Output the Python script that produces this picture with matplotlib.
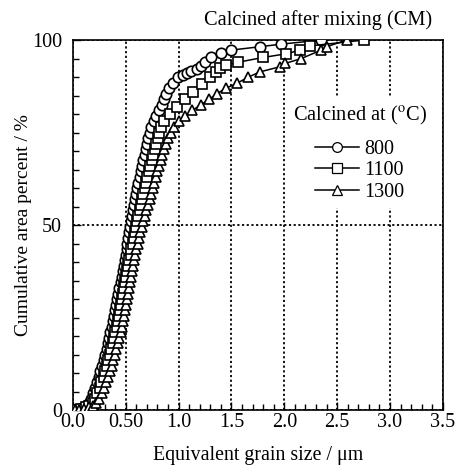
import matplotlib
matplotlib.use("Agg")
import matplotlib.pyplot as plt
from matplotlib.lines import Line2D
from matplotlib.ticker import MultipleLocator, FixedLocator

plt.rcParams["font.family"] = ["Liberation Serif", "DejaVu Serif"]
plt.rcParams["mathtext.fontset"] = "stix"

# cumulative area percent vs equivalent grain size
y_800 = [0.0, 0.1, 0.3, 0.7, 1.2, 2.0, 3.0, 4.5, 6.0, 7.5, 9.0, 10.5, 12.0, 13.5, 15.0,
         16.5, 18.0, 19.5, 21.0, 22.5, 24.0, 25.5, 27.0, 28.5, 30.0, 31.5, 33.0, 34.5,
         36.0, 37.5, 39.0, 40.5, 42.0, 43.5, 45.0, 46.5, 48.0, 49.5, 51.0, 52.5, 54.0,
         55.5, 57.0, 58.5, 60.0, 61.5, 63.0, 64.5, 66.0, 67.5, 69.0, 70.5, 72.0, 73.5,
         75.0, 76.5, 78.0, 79.5, 81.0, 82.5, 84.0, 85.5, 87.0, 88.5, 90.0, 90.6, 91.1,
         91.6, 92.3, 93.1, 94.1, 95.4, 96.6, 97.3, 98.2, 98.9, 100.0]
x_800 = [0.00, 0.03, 0.05, 0.10, 0.125, 0.15, 0.17, 0.19, 0.21, 0.228, 0.245, 0.26, 0.277,
         0.29, 0.305, 0.318, 0.33, 0.343, 0.355, 0.367, 0.378, 0.39, 0.40, 0.41, 0.42,
         0.43, 0.44, 0.45, 0.46, 0.47, 0.48, 0.49, 0.50, 0.508, 0.516, 0.525, 0.533,
         0.542, 0.55, 0.56, 0.57, 0.58, 0.59, 0.60, 0.61, 0.62, 0.632, 0.643, 0.655,
         0.667, 0.68, 0.69, 0.70, 0.713, 0.725, 0.74, 0.765, 0.79, 0.815, 0.84, 0.86,
         0.88, 0.91, 0.945, 0.99, 1.04, 1.08, 1.12, 1.17, 1.21, 1.25, 1.31, 1.40, 1.50,
         1.77, 1.97, 2.35]

y_1100 = [0.0, 0.1, 0.3, 0.7, 1.2, 2.0, 3.0, 4.5, 6.0, 7.5, 9.0, 10.5, 12.0, 13.5, 15.0,
          16.5, 18.0, 19.5, 21.0, 22.5, 24.0, 25.5, 27.0, 28.5, 30.0, 31.5, 33.0, 34.5,
          36.0, 37.5, 39.0, 40.5, 42.0, 43.5, 45.0, 46.5, 48.0, 49.5, 51.0, 52.5, 54.0,
          55.5, 57.0, 58.5, 60.0, 61.5, 63.0, 64.5, 66.0, 67.5, 69.0, 70.5, 72.0, 73.5,
          75.0, 76.5, 78.0, 80.0, 82.0, 84.0, 86.0, 88.0, 90.0, 91.5, 92.5, 93.2, 94.0,
          95.3, 96.3, 97.3, 98.4, 100.0]
x_1100 = [0.01, 0.04, 0.08, 0.125, 0.155, 0.185, 0.21, 0.232, 0.252, 0.27, 0.29, 0.305,
          0.322, 0.336, 0.35, 0.364, 0.377, 0.39, 0.402, 0.413, 0.424, 0.435, 0.445,
          0.455, 0.465, 0.475, 0.485, 0.495, 0.505, 0.515, 0.525, 0.535, 0.545, 0.554,
          0.564, 0.574, 0.585, 0.596, 0.607, 0.618, 0.63, 0.642, 0.654, 0.666, 0.678,
          0.69, 0.703, 0.716, 0.73, 0.744, 0.758, 0.772, 0.787, 0.802, 0.818, 0.836,
          0.86, 0.92, 0.98, 1.06, 1.14, 1.22, 1.30, 1.35, 1.39, 1.45, 1.56, 1.80, 2.02,
          2.15, 2.24, 2.75]

y_1300 = [0.0, 0.1, 0.3, 0.7, 1.2, 2.0, 3.0, 4.5, 6.0, 7.5, 9.0, 10.5, 12.0, 13.5, 15.0,
          16.5, 18.0, 19.5, 21.0, 22.5, 24.0, 25.5, 27.0, 28.5, 30.0, 31.5, 33.0, 34.5,
          36.0, 37.5, 39.0, 40.5, 42.0, 43.5, 45.0, 46.5, 48.0, 49.5, 51.0, 52.5, 54.0,
          55.5, 57.0, 58.5, 60.0, 61.5, 63.0, 64.5, 66.0, 67.5, 69.0, 70.5, 72.0, 73.5,
          75.0, 76.5, 78.0, 79.5, 81.0, 82.5, 84.0, 85.5, 87.0, 88.3, 90.0, 91.4, 92.8,
          93.7, 95.0, 97.3, 98.2, 100.0]
x_1300 = [0.02, 0.06, 0.10, 0.15, 0.19, 0.22, 0.25, 0.275, 0.295, 0.315, 0.335, 0.35,
          0.368, 0.382, 0.396, 0.41, 0.424, 0.437, 0.45, 0.46, 0.47, 0.48, 0.49, 0.50,
          0.51, 0.52, 0.53, 0.54, 0.55, 0.56, 0.57, 0.58, 0.59, 0.60, 0.612, 0.624,
          0.636, 0.65, 0.665, 0.68, 0.695, 0.71, 0.725, 0.74, 0.755, 0.77, 0.785, 0.80,
          0.815, 0.83, 0.845, 0.86, 0.88, 0.90, 0.925, 0.96, 1.00, 1.06, 1.13, 1.21,
          1.29, 1.36, 1.45, 1.55, 1.66, 1.77, 1.96, 2.01, 2.16, 2.35, 2.40, 2.59]

series = [("800", x_800, y_800, "o"),
          ("1100", x_1100, y_1100, "s"),
          ("1300", x_1300, y_1300, "^")]

x_ticks = [0.0, 0.5, 1.0, 1.5, 2.0, 2.5, 3.0, 3.5]
x_tick_labels = ["0.0", "0.50", "1.0", "1.5", "2.0", "2.5", "3.0", "3.5"]
y_ticks = [0, 50, 100]

fig = plt.figure(figsize=(4.56, 4.66), dpi=100)
ax = fig.add_axes([0.160, 0.120, 0.811, 0.794])

for label, xs, ys, mk in series:
    ax.plot(xs, ys, color="black", lw=1.1, marker=mk, ms=7.5, mfc="white",
            mec="black", mew=1.2, zorder=3)

ax.set_xlim(0, 3.5)
ax.set_ylim(0, 100)
ax.xaxis.set_major_locator(FixedLocator(x_ticks))
ax.set_xticklabels(x_tick_labels)
ax.xaxis.set_minor_locator(MultipleLocator(0.1))
ax.yaxis.set_major_locator(FixedLocator(y_ticks))
ax.yaxis.set_minor_locator(MultipleLocator(5))
ax.tick_params(which="both", direction="in", top=False, right=False, labelsize=14.5)
ax.tick_params(which="major", length=6, width=1)
ax.tick_params(which="minor", length=4, width=1)
ax.tick_params(axis="x", pad=2)
ax.tick_params(axis="y", pad=8)

ax.grid(True, which="major", color="black", linestyle=(0, (1.2, 1.4)), lw=1.3, zorder=1)
for sp in ax.spines.values():
    sp.set_linewidth(1.2)

ax.set_xlabel("Equivalent grain size / \u03bcm", fontsize=14.3, labelpad=10)
ax.set_ylabel("Cumulative area percent / %", fontsize=14, labelpad=0)

fig.text(0.948, 1 - 20 / 466, "Calcined after mixing (CM)", ha="right", va="center",
         fontsize=14.7)

handles = [Line2D([], [], color="black", lw=1.1, marker=mk, ms=7, mfc="white",
                  mec="black", mew=0.9) for _, _, _, mk in series]
leg = ax.legend(handles, [s[0] for s in series], title="Calcined at ($^{\\rm o}$C)",
                loc="upper right", bbox_to_anchor=(1.0, 0.87), fontsize=14.5,
                title_fontsize=14.7, frameon=True, framealpha=1, handlelength=2.2,
                handletextpad=0.25, labelspacing=0.12, borderpad=0.3)
leg.get_frame().set_edgecolor("none")
leg.get_frame().set_facecolor("white")
leg._legend_box.align = "center"
leg._legend_box.sep = 9
leg.set_zorder(5)

fig.savefig("out.png", dpi=100)
